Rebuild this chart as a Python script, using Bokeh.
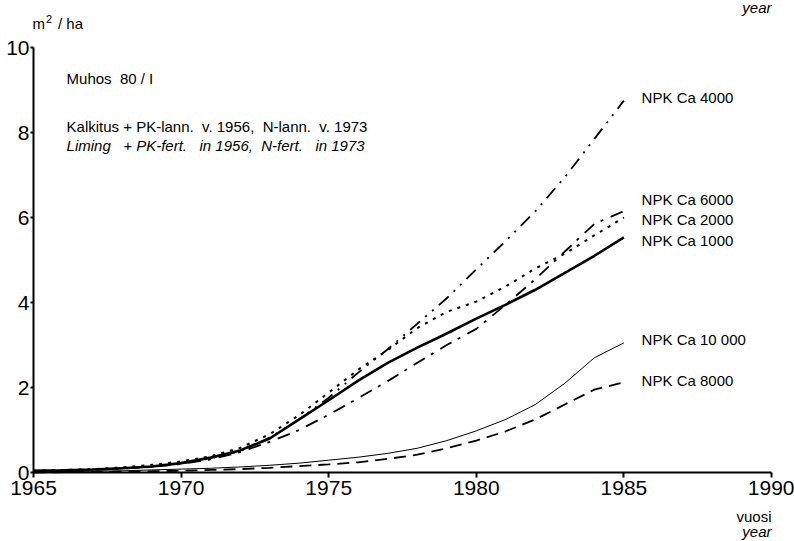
from bokeh.plotting import figure
from bokeh.models import Range1d, Label, FixedTicker
from bokeh.embed import file_html
from bokeh.resources import INLINE

years = list(range(1965, 1986))
npk1000 = [0.04, 0.05, 0.07, 0.10, 0.14, 0.22, 0.35, 0.52, 0.80, 1.25, 1.70, 2.16, 2.58, 2.94, 3.27, 3.62, 3.95, 4.30, 4.70, 5.10, 5.53]
npk2000 = [0.04, 0.06, 0.08, 0.12, 0.18, 0.26, 0.38, 0.58, 0.90, 1.35, 1.88, 2.42, 2.88, 3.40, 3.78, 4.02, 4.38, 4.80, 5.15, 5.58, 6.00]
npk4000 = [0.04, 0.05, 0.07, 0.10, 0.14, 0.21, 0.33, 0.50, 0.82, 1.25, 1.76, 2.35, 2.90, 3.50, 4.10, 4.78, 5.45, 6.15, 6.95, 7.85, 8.75]
npk6000 = [0.03, 0.04, 0.06, 0.09, 0.13, 0.20, 0.31, 0.48, 0.72, 1.00, 1.36, 1.75, 2.15, 2.58, 3.00, 3.38, 3.95, 4.55, 5.20, 5.85, 6.15]
npk8000 = [0.00, 0.01, 0.01, 0.02, 0.03, 0.04, 0.06, 0.08, 0.11, 0.15, 0.19, 0.24, 0.32, 0.42, 0.57, 0.75, 0.97, 1.25, 1.60, 1.95, 2.12]
npk10000 = [0.01, 0.02, 0.03, 0.04, 0.06, 0.08, 0.10, 0.13, 0.17, 0.22, 0.29, 0.36, 0.45, 0.57, 0.75, 0.98, 1.25, 1.60, 2.10, 2.70, 3.05]

series_labels = ["NPK Ca 4000", "NPK Ca 6000", "NPK Ca 2000", "NPK Ca 1000", "NPK Ca 10 000", "NPK Ca 8000"]
label_y = [8.82, 6.42, 5.95, 5.46, 3.13, 2.16]
x_ticks = [1965, 1970, 1975, 1980, 1985, 1990]
y_ticks = [0, 2, 4, 6, 8, 10]

FONT = "Liberation Sans"
NB = "\u00a0"

# The frame covers the whole canvas; both axes are drawn at fixed positions and bounded.
p = figure(width=794, height=541, output_backend="svg", toolbar_location=None,
           title_location=None,
           x_range=Range1d(1963.882, 1990.779), y_range=Range1d(-1.6235, 11.106),
           min_border_left=0, min_border_right=0, min_border_top=0, min_border_bottom=0)
p.outline_line_color = None
p.xgrid.visible = False
p.ygrid.visible = False
p.background_fill_color = "white"

for ax in (p.xaxis[0], p.yaxis[0]):
    ax.axis_line_width = 2
    ax.axis_line_color = "black"
    ax.major_tick_line_width = 2
    ax.major_tick_in = 0
    ax.minor_tick_line_color = None
    ax.major_label_text_font = FONT
    ax.major_label_text_color = "black"
    ax.major_label_text_font_size = "21px"

p.xaxis.fixed_location = 0
p.yaxis.fixed_location = 1965
p.xaxis.bounds = (1965, 1990)
p.yaxis.bounds = (0, 10)
p.xaxis.ticker = FixedTicker(ticks=x_ticks)
p.yaxis.ticker = FixedTicker(ticks=y_ticks)
p.xaxis.major_tick_out = 5
p.xaxis.major_label_standoff = 3
p.yaxis.major_tick_out = 3
p.yaxis.major_label_standoff = 1

p.line(years, npk1000, line_color="black", line_width=2.6)
p.line(years, npk10000, line_color="black", line_width=1.0)
p.line(years, npk8000, line_color="black", line_width=1.8, line_dash="12 7")
p.line(years, npk2000, line_color="black", line_width=2.0, line_dash="3 6")
p.line(years, npk6000, line_color="black", line_width=1.8, line_dash="13 7 3 8")
p.line(years, npk4000, line_color="black", line_width=1.8, line_dash="13 7 2 7 2 7")

def lab(x, y, text, size="15px", style="normal", align="left", baseline="middle"):
    p.add_layout(Label(x=x, y=y, text=text, text_font=FONT, text_font_size=size,
                       text_font_style=style, text_align=align, text_baseline=baseline,
                       text_color="black"))

for t, yv in zip(series_labels, label_y):
    lab(1985.6, yv, t)

lab(1966.12, 9.28, "Muhos" + NB * 2 + "80 / I")
lab(1966.12, 8.13, "Kalkitus + PK-lann." + NB * 2 + "v. 1956," + NB * 2 + "N-lann." + NB * 2 + "v. 1973")
lab(1966.12, 7.70, "Liming" + NB * 3 + "+ PK-fert." + NB * 3 + "in 1956," + NB * 2 + "N-fert." + NB * 3 + "in 1973",
    style="italic")

# unit label and the "year" at the top
lab(1964.97, 10.56, "m", baseline="alphabetic")
lab(1965.42, 10.66, "2", size="11px", baseline="alphabetic")
lab(1965.83, 10.56, "/ ha", baseline="alphabetic")
lab(1990, 10.95, "year", style="italic", align="right")

# axis title below the x axis
lab(1990, -1.04, "vuosi", align="right")
lab(1990, -1.39, "year", style="italic", align="right")

open("out.html", "w").write(file_html(p, INLINE))
